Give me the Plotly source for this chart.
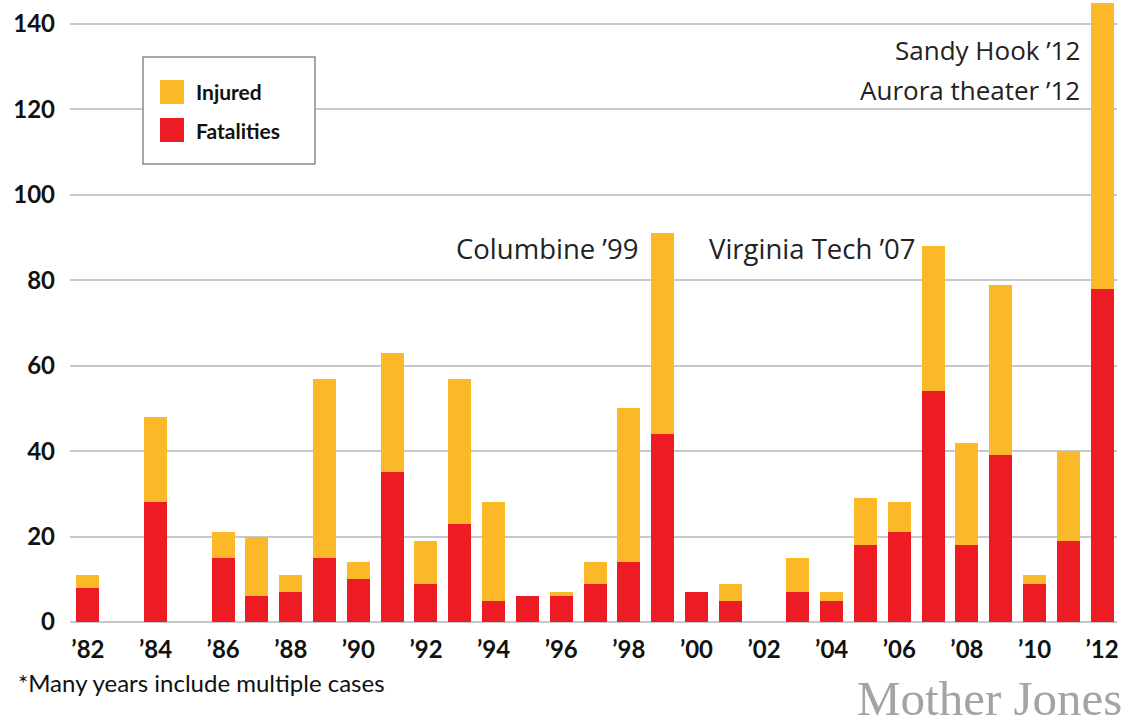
import plotly.graph_objects as go

years = list(range(1982, 2013))
tick_labels = ["’82", "’84", "’86", "’88", "’90", "’92", "’94", "’96", "’98", "’00", "’02", "’04", "’06", "’08", "’10", "’12"]
fatalities = [8, 0, 28, 0, 15, 6, 7, 15, 10, 35, 9, 23, 5, 6, 6, 9, 14, 44, 7, 5, 0, 7, 5, 18, 21, 54, 18, 39, 9, 19, 78]
totals = [11, 0, 48, 0, 21, 20, 11, 57, 14, 63, 19, 57, 28, 6, 7, 14, 50, 91, 7, 9, 0, 15, 7, 29, 28, 88, 42, 79, 11, 40, 145]
injured = [t - f for t, f in zip(totals, fatalities)]

RED = "#ED1C24"
ORANGE = "#FBB829"
FONT = "Lato"
ANN_FONT = "Open Sans"

W, H = 1128, 726
L, R, T, B = 70, 11, 0, 104
pw, ph = W - L - R, H - T - B


def px(x):
    return (x - L) / pw


def py(y):
    return (H - B - y) / ph


fig = go.Figure()
fig.add_trace(go.Bar(x=years, y=fatalities, name="Fatalities", marker=dict(color=RED, line=dict(width=0)),
                     width=0.68, showlegend=False))
fig.add_trace(go.Bar(x=years, y=injured, name="Injured", marker=dict(color=ORANGE, line=dict(width=0)),
                     width=0.68, showlegend=False))

annots = [
    dict(x=1998.33, y=87.5, text="Columbine ’99", size=27.5),
    dict(x=2006.56, y=87.5, text="Virginia Tech ’07", size=27.5),
    dict(x=2011.41, y=134, text="Sandy Hook ’12", size=26),
    dict(x=2011.41, y=124.6, text="Aurora theater ’12", size=26),
]
for a in annots:
    fig.add_annotation(x=a["x"], y=a["y"], text=a["text"], xref="x", yref="y",
                       xanchor="right", yanchor="middle", showarrow=False,
                       font=dict(family=ANN_FONT, size=a["size"], color="#222222"))

# footnote and logo
fig.add_annotation(x=px(16), y=py(682), xref="paper", yref="paper", text="*Many years include multiple cases",
                   showarrow=False, xanchor="left", yanchor="middle",
                   font=dict(family=FONT, size=24, color="#111111"))
fig.add_annotation(x=px(1124), y=py(698), xref="paper", yref="paper", text="Mother Jones",
                   showarrow=False, xanchor="right", yanchor="middle",
                   font=dict(family="Liberation Serif", size=49, color="#a2a4a6"))

# custom legend box
shapes = [
    dict(type="rect", xref="paper", yref="paper", x0=px(143), x1=px(315), y0=py(164), y1=py(57),
         line=dict(color="#8a8a8a", width=1.5), fillcolor="white", layer="above"),
    dict(type="rect", xref="paper", yref="paper", x0=px(160), x1=px(184), y0=py(104), y1=py(80),
         line=dict(width=0), fillcolor=ORANGE, layer="above"),
    dict(type="rect", xref="paper", yref="paper", x0=px(160), x1=px(184), y0=py(142), y1=py(118),
         line=dict(width=0), fillcolor=RED, layer="above"),
]
for label, yc in [("Injured", 92), ("Fatalities", 130)]:
    fig.add_annotation(x=px(194), y=py(yc), xref="paper", yref="paper", text=label, showarrow=False,
                       xanchor="left", yanchor="middle",
                       font=dict(family=FONT, size=21, color="#111111", weight="bold"))

fig.update_layout(
    width=W, height=H,
    margin=dict(l=L, r=R, t=T, b=B),
    barmode="stack",
    bargap=0,
    plot_bgcolor="white", paper_bgcolor="white",
    showlegend=False,
    shapes=shapes,
    xaxis=dict(range=[1981.47, 2012.44], tickmode="array",
               tickvals=list(range(1982, 2013, 2)), ticktext=tick_labels,
               showgrid=False, zeroline=False, showline=False, ticks="", automargin=False,
               tickfont=dict(family=FONT, size=24, color="#111111", weight="bold"), ticklabelstandoff=11),
    yaxis=dict(range=[0, 145.6], tickmode="array", tickvals=[0, 20, 40, 60, 80, 100, 120, 140],
               showgrid=True, gridcolor="#c8c8c8", gridwidth=1.5, zeroline=True,
               zerolinecolor="#c8c8c8", zerolinewidth=1.5, ticks="", automargin=False,
               tickfont=dict(family=FONT, size=24, color="#111111", weight="bold"), ticklabelstandoff=14),
)

fig.write_html("out.html", config={"displayModeBar": False},
               post_script="document.body.style.margin='0';document.body.style.overflow='hidden';")
